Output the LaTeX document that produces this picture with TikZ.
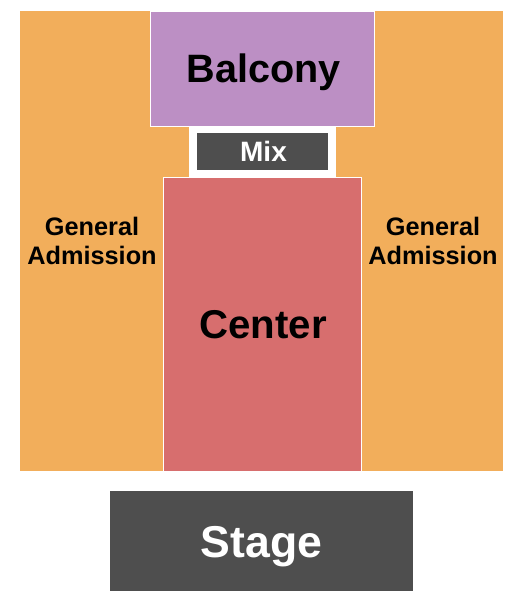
\documentclass[tikz,border=0pt]{standalone}
\usepackage{fontspec}
\setmainfont{Liberation Sans}
\definecolor{ga}{HTML}{F2AE5B}
\definecolor{balc}{HTML}{BC8FC4}
\definecolor{ctr}{HTML}{D76E6E}
\definecolor{dark}{HTML}{4E4E4E}
\tikzset{
  lbl/.style={anchor=base, font=\bfseries, inner sep=0pt},
  sect/.style={draw=white, line width=1pt},
}
\begin{document}
\begin{tikzpicture}[x=1pt,y=-1pt]
\useasboundingbox (0,0) rectangle (525,600);
\fill[white] (0,0) rectangle (525,600);
% general admission area
\fill[ga] (20,11) rectangle (503,471);
% white gap around mix
\fill[white] (189,126) rectangle (336,177);
% balcony
\filldraw[sect, fill=balc] (150,11) rectangle (374,126);
% center
\filldraw[sect, fill=ctr] (163,177) rectangle (361,471);
% mix
\fill[dark] (197,133) rectangle (328,170);
% stage
\fill[dark] (110,491) rectangle (413,591);
% labels
\node[lbl, font=\fontsize{39.6}{39.6}\bfseries] (balcony) at (263.5,82) {Balcony};
\node[lbl, text=white, font=\fontsize{28}{28}\bfseries] (mix) at (263.5,161) {Mix};
\node[lbl, font=\fontsize{40.2}{40.2}\bfseries] (center) at (263,338) {Center};
\node[lbl, text=white, font=\fontsize{44.6}{44.6}\bfseries] (stage) at (261.5,557) {Stage};
\node[lbl, font=\fontsize{25.3}{25.3}\bfseries] (ga1a) at (92,235) {General};
\node[lbl, font=\fontsize{25.3}{25.3}\bfseries] (ga1b) at (92,264) {Admission};
\node[lbl, font=\fontsize{25.3}{25.3}\bfseries] (ga2a) at (433,235) {General};
\node[lbl, font=\fontsize{25.3}{25.3}\bfseries] (ga2b) at (433,264) {Admission};
\end{tikzpicture}
\end{document}
